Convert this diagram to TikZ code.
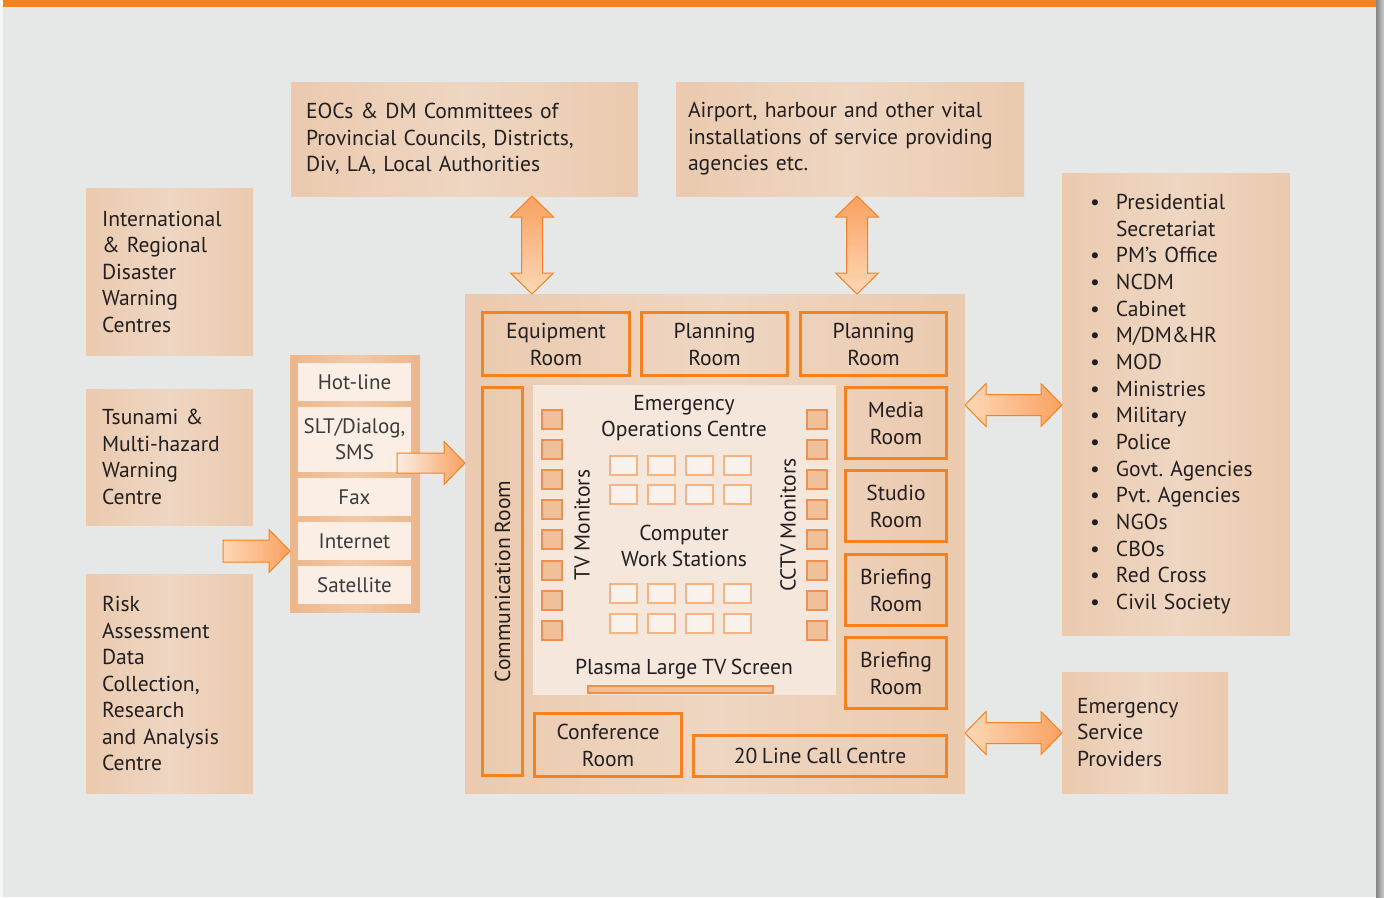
\documentclass[tikz,border=0pt]{standalone}
\usepackage{fontspec}
\setmainfont{PT Sans}[WordSpace=0.8]
\frenchspacing
\usetikzlibrary{calc}
\definecolor{bgc}{HTML}{E6E8E7}
\definecolor{org}{HTML}{F5821F}
\definecolor{boxc}{HTML}{EBCAAE}
\definecolor{boxm}{HTML}{EED6C2}
\definecolor{commc}{HTML}{EDB68B}
\definecolor{commm}{HTML}{F1C9A8}
\definecolor{cellc}{HTML}{FBEEE4}
\definecolor{eocc}{HTML}{F6E7DC}
\definecolor{monf}{HTML}{F0C09A}
\definecolor{mond}{HTML}{F0904F}
\definecolor{wsf}{HTML}{F9F1EB}
\definecolor{wsd}{HTML}{F6B384}
\definecolor{arrd}{HTML}{F9A160}
\definecolor{arrl}{HTML}{FDD8B6}
\definecolor{txt}{HTML}{231F20}
\definecolor{celltxt}{HTML}{3C3A3A}
\tikzset{
  ext/.style={left color=boxc, right color=boxc, middle color=boxm, inner ysep=0pt, outer sep=0pt,
    anchor=north west, text=txt, align=left, font=\fontsize{21.6}{26.5}\selectfont},
  room/.style={draw=org, line width=3pt, inner sep=0pt, outer sep=0pt, text=txt, align=center,
    font=\fontsize{21.6}{27}\selectfont},
  cell/.style={fill=cellc, inner sep=0pt, outer sep=0pt, minimum width=113pt, text=celltxt, align=center,
    font=\fontsize{21}{26}\selectfont},
  mon/.style={draw=mond, line width=2pt, fill=monf, inner sep=0pt, minimum width=20pt, minimum height=19pt},
  ws/.style={draw=wsd, line width=2pt, fill=wsf, inner sep=0pt, minimum width=27pt, minimum height=19pt},
  lbl/.style={text=txt, inner sep=0pt, align=center, font=\fontsize{21.6}{26.5}\selectfont},
  bigarrow/.style={draw=org, line width=1pt, line join=miter},
}
\newcommand\VDArrow[2]{%
  \path[bigarrow, top color=arrd, bottom color=arrl]
    (#1) -- ($(#1)+(21.5,21)$) -- ($(#1)+(10.5,21)$) -- ($(#2)+(10.5,-21)$) -- ($(#2)+(21.5,-21)$)
    -- (#2) -- ($(#2)+(-21.5,-21)$) -- ($(#2)+(-10.5,-21)$) -- ($(#1)+(-10.5,21)$) -- ($(#1)+(-21.5,21)$) -- cycle;}
\newcommand\HDArrow[2]{%
  \path[bigarrow, left color=arrl, right color=arrd]
    (#1) -- ($(#1)+(21,-21.5)$) -- ($(#1)+(21,-10.5)$) -- ($(#2)+(-21,-10.5)$) -- ($(#2)+(-21,-21.5)$)
    -- (#2) -- ($(#2)+(-21,21.5)$) -- ($(#2)+(-21,10.5)$) -- ($(#1)+(21,10.5)$) -- ($(#1)+(21,21.5)$) -- cycle;}
\newcommand\HSArrow[4]{% tail, tip, half shaft, left colour
  \path[bigarrow, left color=#4, right color=arrd]
    ($(#1)+(0,-#3)$) -- ($(#2)+(-21,-#3)$) -- ($(#2)+(-21,-21.5)$) -- (#2) -- ($(#2)+(-21,21.5)$)
    -- ($(#2)+(-21,#3)$) -- ($(#1)+(0,#3)$) -- cycle;}
\begin{document}
\begin{tikzpicture}[x=1pt,y=-1pt]
\useasboundingbox (0,0) rectangle (1384,897);
\fill[white!93!gray] (0,0) rectangle (1384,897);
\fill[bgc] (3,0) rectangle (1376,897);
\fill[left color=black!48, right color=black!20] (1376,0) rectangle (1384,897);
\fill[org] (3,0) rectangle (1376,7);

% outer boxes
\node[ext, inner xsep=16pt, text width=135pt, minimum height=167pt] (intl) at (86,188)
  {International\\\&~Regional\\Disaster\\Warning\\Centres};
\node[ext, inner xsep=16pt, text width=135pt, minimum height=136pt] (tsu) at (86,389)
  {Tsunami \&\\Multi-hazard\\Warning\\Centre};
\node[ext, inner xsep=16pt, text width=135pt, minimum height=219pt] (risk) at (86,574)
  {Risk\\Assessment\\Data\\Collection,\\Research\\and Analysis\\Centre};
\node[ext, inner xsep=15pt, text width=317pt, minimum height=114pt] (eocs) at (291,82)
  {EOCs \& DM Committees of\\Provincial Councils, Districts,\\Div, LA, Local Authorities};
\node[ext, inner xsep=12pt, text width=324pt, minimum height=114pt] (air) at (676,82)
  {Airport, harbour and other vital\\installations of service providing\\agencies etc.};
\node[ext, inner xsep=0pt, text width=228pt, minimum height=462pt, font=\fontsize{21.6}{26.67}\selectfont] (list) at (1062,173)
  {\hspace*{28pt}\makebox[26pt][l]{\textbullet}Presidential\\
   \hspace*{54pt}Secretariat\\
   \hspace*{28pt}\makebox[26pt][l]{\textbullet}PM’s Office\\
   \hspace*{28pt}\makebox[26pt][l]{\textbullet}NCDM\\
   \hspace*{28pt}\makebox[26pt][l]{\textbullet}Cabinet\\
   \hspace*{28pt}\makebox[26pt][l]{\textbullet}M/DM\&HR\\
   \hspace*{28pt}\makebox[26pt][l]{\textbullet}MOD\\
   \hspace*{28pt}\makebox[26pt][l]{\textbullet}Ministries\\
   \hspace*{28pt}\makebox[26pt][l]{\textbullet}Military\\
   \hspace*{28pt}\makebox[26pt][l]{\textbullet}Police\\
   \hspace*{28pt}\makebox[26pt][l]{\textbullet}Govt. Agencies\\
   \hspace*{28pt}\makebox[26pt][l]{\textbullet}Pvt. Agencies\\
   \hspace*{28pt}\makebox[26pt][l]{\textbullet}NGOs\\
   \hspace*{28pt}\makebox[26pt][l]{\textbullet}CBOs\\
   \hspace*{28pt}\makebox[26pt][l]{\textbullet}Red Cross\\
   \hspace*{28pt}\makebox[26pt][l]{\textbullet}Civil Society};
\node[ext, inner xsep=15pt, text width=136pt, minimum height=121pt] (esp) at (1062,672)
  {Emergency\\Service\\Providers};

% communication channels
\node[left color=commc, right color=commc, middle color=commm, anchor=north west, inner sep=0pt, outer sep=0pt,
  minimum width=130pt, minimum height=257pt] (comm) at (290,355) {};
\node[cell, minimum height=38pt] (hot) at (354.5,382) {Hot-line};
\node[cell, minimum height=65pt] (slt) at (354.5,439.5) {SLT/Dialog,\\SMS};
\node[cell, minimum height=38pt] (fax) at (354.5,497) {Fax};
\node[cell, minimum height=38pt] (inet) at (354.5,541) {Internet};
\node[cell, minimum height=38pt] (sat) at (354.5,585) {Satellite};

% main building
\node[left color=boxc, right color=boxc, middle color=boxm, anchor=north west, inner sep=0pt, outer sep=0pt,
  minimum width=500pt, minimum height=499pt] (main) at (465,294) {};
\node[room, minimum width=147pt, minimum height=63pt] (equip) at (556,344) {Equipment\\Room};
\node[room, minimum width=146pt, minimum height=63pt] (plan1) at (714.5,344) {Planning\\Room};
\node[room, minimum width=146pt, minimum height=63pt] (plan2) at (873.5,344) {Planning\\Room};
\node[room, rotate=90, minimum width=388pt, minimum height=40pt] (commroom) at (502.5,581.5) {Communication Room};
\node[room, minimum width=101pt, minimum height=71pt] (media) at (896,423) {Media\\Room};
\node[room, minimum width=101pt, minimum height=71pt] (studio) at (896,506) {Studio\\Room};
\node[room, minimum width=101pt, minimum height=71pt] (brief1) at (896,590) {Briefing\\Room};
\node[room, minimum width=101pt, minimum height=71pt] (brief2) at (896,673) {Briefing\\Room};
\node[room, minimum width=147pt, minimum height=63pt] (conf) at (608,745) {Conference\\Room};
\node[room, minimum width=253pt, minimum height=41pt] (call) at (820,756) {20 Line Call Centre};

% EOC hall
\node[fill=eocc, inner sep=0pt, outer sep=0pt, minimum width=303pt, minimum height=310pt] (eoc) at (684.5,540) {};
\foreach \i in {1,...,8} {
  \node[mon] (tv\i) at (552,{419.5+30.1*(\i-1)}) {};
  \node[mon] (cc\i) at (816.5,{419.5+30.1*(\i-1)}) {};
}
\foreach \c/\x in {1/623.5,2/661.3,3/699.1,4/737} {
  \foreach \r/\y in {1/465.5,2/494.5,3/593.5,4/623.5} {
    \node[ws] (ws\r\c) at (\x,\y) {};
  }
}
\node[mon, minimum width=185pt, minimum height=7pt] (plasma) at (680.5,689.5) {};
\node[lbl] (eoctitle) at (684,418) {Emergency\\Operations Centre};
\node[lbl] (wslabel) at (684,546) {Computer\\Work Stations};
\node[lbl] (plasmalabel) at (684,669) {Plasma Large TV Screen};
\node[lbl, rotate=90] (tvlabel) at (582,525) {TV Monitors};
\node[lbl, rotate=90] (cclabel) at (788,525) {CCTV Monitors};

% arrows
\coordinate (a1t) at (532,0 |- eocs.south);
\coordinate (a1b) at (532,0 |- main.north);
\coordinate (a2t) at (857,0 |- air.south);
\coordinate (a2b) at (857,0 |- main.north);
\VDArrow{a1t}{a1b}
\VDArrow{a2t}{a2b}
\coordinate (a3l) at (main.east |- 0,405);
\coordinate (a3r) at (list.west |- 0,405);
\coordinate (a4l) at (main.east |- 0,733);
\coordinate (a4r) at (esp.west |- 0,733);
\HDArrow{a3l}{a3r}
\HDArrow{a4l}{a4r}
\coordinate (a5t) at (223,551);
\coordinate (a5h) at (comm.west |- 0,551);
\HSArrow{a5t}{a5h}{11}{arrl}
\coordinate (a6t) at (397,463);
\coordinate (a6h) at (main.west |- 0,463);
\HSArrow{a6t}{a6h}{10}{cellc}
\end{tikzpicture}
\end{document}
